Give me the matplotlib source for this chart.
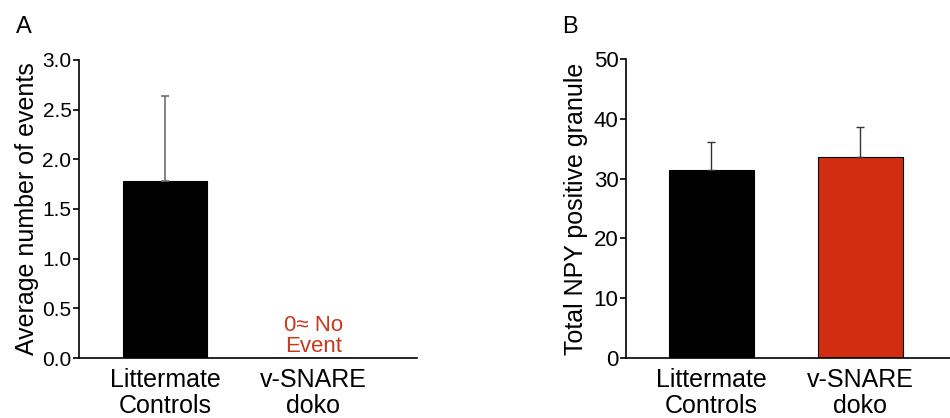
import matplotlib
matplotlib.use("Agg")
import matplotlib.pyplot as plt

plt.rcParams['font.family'] = ['Liberation Sans', 'DejaVu Sans']

categories = ["Littermate\nControls", "v-SNARE\ndoko"]

# panel A: average number of events
events_mean = [1.78, 0.0]
events_err = [0.86, 0.0]

# panel B: total NPY positive granule
npy_mean = [31.4, 33.6]
npy_err = [4.7, 5.0]

a_ticks = [0.0, 0.5, 1.0, 1.5, 2.0, 2.5, 3.0]
b_ticks = [0, 10, 20, 30, 40, 50]

red = '#d22d10'

fig = plt.figure(figsize=(9.5, 4.18), dpi=100)
axA = fig.add_axes([0.0832, 0.1435, 0.3557, 0.7130])
axB = fig.add_axes([0.659, 0.1435, 0.341, 0.7153])


def style_axis(ax):
    for side in ['top', 'right']:
        ax.spines[side].set_visible(False)
    ax.spines['left'].set_linewidth(1.2)
    ax.spines['bottom'].set_linewidth(1.2)
    ax.tick_params(axis='y', direction='out', length=4, width=1.2,
                   labelsize=15, pad=1.5)
    ax.tick_params(axis='x', length=0, labelsize=18, pad=7)


# panel A
x = [0, 1]
axA.bar(x, events_mean, width=0.57, color=['black', red],
        edgecolor='black', linewidth=0.8)
axA.errorbar(x[:1], events_mean[:1], yerr=[[0], events_err[:1]],
             fmt='none', ecolor='#6e6e6e', elinewidth=1.2, capsize=3,
             capthick=1.2)
axA.set_xlim(-0.58, 1.70)
axA.set_ylim(0, 3.0)
axA.set_yticks(a_ticks)
axA.set_yticklabels(["%.1f" % t for t in a_ticks])
axA.set_xticks(x)
axA.set_xticklabels(categories, linespacing=1.12)
axA.set_ylabel("Average number of events", fontsize=18, labelpad=2)
axA.text(1, 0.22, "0\u2248 No\nEvent", color='#c8381c', fontsize=16,
         ha='center', va='center', linespacing=1.0)
style_axis(axA)
fig.text(0.017, 0.92, "A", fontsize=17, ha='left', va='baseline')

# panel B
axB.bar(x, npy_mean, width=0.57, color=['black', red],
        edgecolor='black', linewidth=0.8)
axB.errorbar(x, npy_mean, yerr=[[0, 0], npy_err], fmt='none',
             ecolor='#333333', elinewidth=1.0, capsize=3, capthick=1.0)
axB.set_xlim(-0.57, 1.60)
axB.set_ylim(0, 50)
axB.set_yticks(b_ticks)
axB.set_xticks(x)
axB.set_xticklabels(categories, linespacing=1.12)
axB.set_ylabel("Total NPY positive granule", fontsize=18, labelpad=4)
style_axis(axB)
axB.tick_params(axis='y', labelsize=16)
fig.text(0.592, 0.92, "B", fontsize=17, ha='left', va='baseline')

fig.savefig("out.png", dpi=100)
